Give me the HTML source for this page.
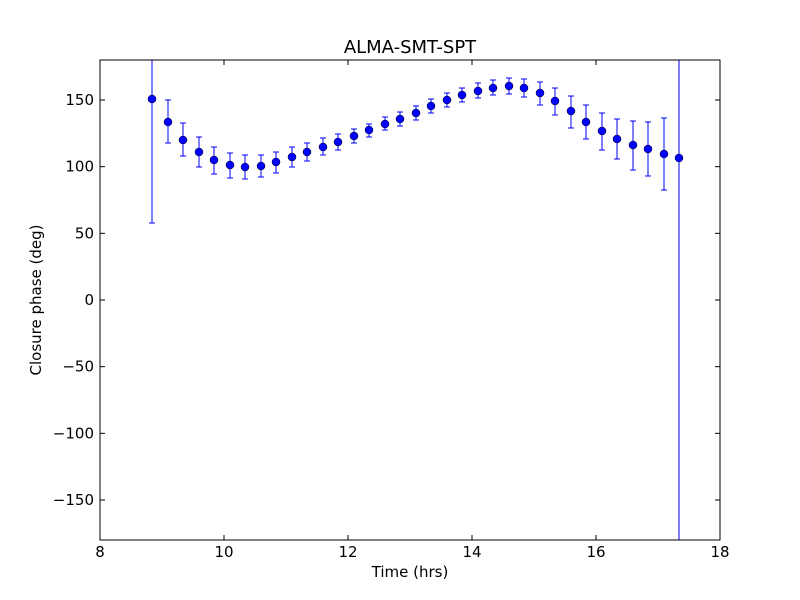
<!DOCTYPE html>
<html><head><style>body{margin:0;background:#fff}svg{display:block}</style></head><body>
<svg width="800" height="600" xmlns="http://www.w3.org/2000/svg" font-family="DejaVu Sans, Liberation Sans, sans-serif">
<rect width="800" height="600" fill="#fff"/>
<text x="410" y="53" font-size="18" text-anchor="middle">ALMA-SMT-SPT</text>
<g id="pts" stroke="#0000ff" stroke-width="1" fill="#0000ff"></g>
<rect x="100" y="60" width="620" height="480" fill="none" stroke="#000" stroke-width="1"/>
<g id="ticks" stroke="#000" stroke-width="1"></g>
<g id="labels" font-size="15" fill="#000"></g>
<text x="410" y="577" font-size="15" text-anchor="middle">Time (hrs)</text>
<text x="41" y="300" font-size="15" text-anchor="middle" transform="rotate(-90 41 300)">Closure phase (deg)</text>
<script>
var NS="http://www.w3.org/2000/svg";
function el(p,t,a,txt){var e=document.createElementNS(NS,t);for(var k in a)e.setAttribute(k,a[k]);if(txt!==undefined)e.textContent=txt;p.appendChild(e);return e;}
var d=[[152,99,60,223],[168,122,100,143],[183,140,123,156],[199,152,137,167],[214,160,147,174],[230,165,153,178],[245,167,155,179],[261,166,155,177],[276,162,152,173],[292,157,147,167],[307,152,143,161],[323,147,138,155],[338,142,134,150],[354,136,129,143],[369,130,124,137],[385,124,117,130],[400,119,112,126],[416,113,106,120],[431,106,99,113],[447,100,93,107],[462,95,88,102],[478,91,83,98],[493,88,80,95],[509,86,78,94],[524,88,79,97],[540,93,82,105],[555,101,88,115],[571,111,96,128],[586,122,105,139],[602,131,113,150],[617,139,119,159],[633,145,121,170],[648,149,122,176],[664,154,118,190],[679,158,60,540]];
var g=document.getElementById("pts");
d.forEach(function(p){
el(g,"line",{x1:p[0],x2:p[0],y1:p[2],y2:p[3]});
if(p[2]>60)el(g,"line",{x1:p[0]-3,x2:p[0]+3,y1:p[2],y2:p[2]});
if(p[3]<540)el(g,"line",{x1:p[0]-3,x2:p[0]+3,y1:p[3],y2:p[3]});
el(g,"circle",{cx:p[0],cy:p[1],r:4,stroke:"#000","stroke-width":0.5});
});
var t=document.getElementById("ticks"),L=document.getElementById("labels");
for(var v=8;v<=18;v+=2){var x=100+(v-8)*62;
el(t,"line",{x1:x,x2:x,y1:540,y2:535});el(t,"line",{x1:x,x2:x,y1:60,y2:65});
el(L,"text",{x:x,y:557,"text-anchor":"middle"},String(v));}
for(var v=-150;v<=150;v+=50){var y=300-v*480/360;
el(t,"line",{x1:100,x2:105,y1:y,y2:y});el(t,"line",{x1:720,x2:715,y1:y,y2:y});
el(L,"text",{x:94,y:y+5,"text-anchor":"end"},v<0?"\u2212"+(-v):String(v));}
</script>
</svg>
</body></html>
